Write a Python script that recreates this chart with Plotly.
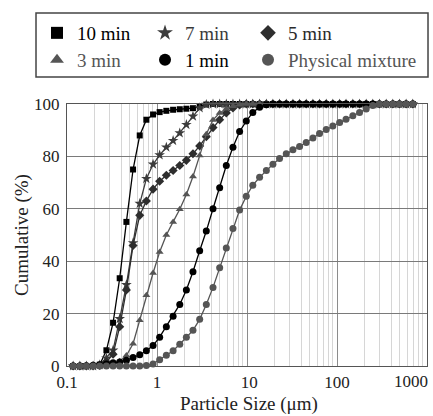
import plotly.graph_objects as go

# Particle size grid (µm)
SIZES = [0.117, 0.139, 0.164, 0.195, 0.231, 0.274, 0.325, 0.385, 0.457, 0.542,
         0.643, 0.762, 0.904, 1.07, 1.27, 1.51, 1.79, 2.12, 2.51, 2.98,
         3.53, 4.19, 4.97, 5.89, 6.98, 8.28, 9.82, 11.6, 13.8, 16.4,
         19.4, 23.0, 27.3, 32.4, 38.4, 45.5, 54.0, 64.0, 75.9, 89.9,
         107, 126, 150, 178, 211, 250, 296, 352, 417, 494, 586, 695]

MIN10 = [0, 0, 0, 0, 0.5, 6, 16.5, 33.5, 55, 75, 88, 94, 96.0, 96.9, 97.4, 97.8,
         98.0, 98.2, 98.4, 99.0, 99.8] + [100] * 31
MIN7 = [0, 0, 0, 0, 0.4, 3, 6, 18, 31, 47, 62, 71.5, 77, 80.5, 83.5, 86, 88.9,
        92.1, 95.3, 98.5, 99.8] + [100] * 31
MIN5 = [0, 0, 0, 0, 0.2, 1.5, 4.5, 15, 29, 46, 57.5, 63, 67.5, 70.5, 72.8, 74.6,
        76.5, 78.5, 81, 84, 87.5, 91, 94, 96.6, 98.5, 99.6] + [100] * 26
MIN3 = [0, 0, 0, 0, 0, 0.3, 0.8, 1.8, 4, 8.5, 17.5, 27, 35.5, 43.5, 50, 55,
        59.8, 65.5, 72.3, 80.3, 88.5, 93.9, 96.6, 98.2, 99.1, 99.7] + [100] * 26
MIN1 = [0, 0, 0.1, 0.3, 0.5, 0.8, 1.2, 1.5, 2.2, 3.2, 4.3, 5.8, 7.8, 11, 15, 19,
        23.5, 29, 36, 44, 51.5, 60, 68, 76.5, 83.5, 89.5, 93.5, 96.8, 98.8, 99.7] + [100] * 22
PHYS = [0] * 11 + [0.2, 0.8, 2.4, 4.1, 5.8, 8.3, 11, 13.6, 17.8, 23.5, 30, 37.5,
                   45, 52.5, 59.5, 64.8, 69, 72, 74.6, 77, 79.2, 81, 82.5, 83.8,
                   85.3, 87, 88.7, 90.3, 91.6, 92.9, 94.2, 95.5, 96.8, 98.1, 99.4,
                   100, 100, 100, 100, 100, 100]

NAMES = ["10 min", "7 min", "5 min", "3 min", "1 min", "Physical mixture"]
VALUES = [MIN10, MIN7, MIN5, MIN3, MIN1, PHYS]
SYMBOLS = ["square", "star", "diamond", "triangle-up", "circle", "circle"]
COLORS = ["#000000", "#3c3c3c", "#2e2e2e", "#555555", "#000000", "#555555"]
TEXT_COLORS = ["#000000", "#3a3a3a", "#2a2a2a", "#555555", "#000000", "#555555"]
SIZES_MK = [6, 8, 7, 7, 7, 7]

X_TICKS = [0.1, 1, 10, 100, 1000]
X_TICK_LABELS = ["0.1", "1", "10", "100", "1000"]
MINOR_TICKS = [m * d for d in [0.1, 1, 10, 100] for m in range(2, 10)]
Y_TICKS = [0, 20, 40, 60, 80, 100]

# legend slot placement (paper coords): 3 columns x 2 rows
LEG_X = [-0.0833, 0.2167, 0.5028]
LEG_Y = [1.271, 1.168]

FONT = '"Liberation Serif", "Times New Roman", serif'
INK = "#222222"

fig = go.Figure()
legend_layout = {}
for i, (name, vals, sym, col, tcol, msz) in enumerate(
        zip(NAMES, VALUES, SYMBOLS, COLORS, TEXT_COLORS, SIZES_MK)):
    lg = "legend" if i == 0 else "legend%d" % (i + 1)
    fig.add_trace(go.Scatter(x=SIZES, y=vals, mode="lines",
                             line=dict(color=col, width=1.3),
                             showlegend=False, hoverinfo="skip"))
    fig.add_trace(go.Scatter(x=SIZES, y=vals, mode="markers",
                             marker=dict(symbol=sym, size=msz, color=col,
                                         line=dict(width=0)),
                             name=name, legend=lg, cliponaxis=False))
    legend_layout[lg] = dict(
        orientation="h", x=LEG_X[i % 3], xanchor="left",
        y=LEG_Y[i // 3], yanchor="middle",
        bgcolor="rgba(0,0,0,0)", borderwidth=0, itemsizing="constant",
        font=dict(family=FONT, size=19, color=tcol))

# last tick label is drawn right-aligned to the axis end (as in the reference)
tick_text = ["\u00a0" + t if t == "10" else t for t in X_TICK_LABELS[:-1]] + [""]

fig.update_layout(
    width=433, height=416,
    margin=dict(l=67, r=6, t=104, b=50, autoexpand=False),
    paper_bgcolor="white", plot_bgcolor="white",
    font=dict(family=FONT, size=17, color=INK),
    shapes=[dict(type="rect", xref="paper", yref="paper",
                 x0=-0.0861, x1=1.0028, y0=1.103, y1=1.347,
                 line=dict(color="#444444", width=1.5), fillcolor="rgba(0,0,0,0)")],
    annotations=[
        dict(text="Particle Size (μm)", xref="paper", yref="paper",
             x=0.5056, y=-0.145, xanchor="center", yanchor="middle",
             showarrow=False, font=dict(family=FONT, size=19, color=INK)),
        dict(text="Cumulative (%)", xref="paper", yref="paper",
             x=-0.125, y=0.5, xanchor="center", yanchor="middle", textangle=-90,
             showarrow=False, font=dict(family=FONT, size=19, color=INK)),
        dict(text=X_TICK_LABELS[-1], xref="paper", yref="paper",
             x=1.0, y=-0.061, xanchor="right", yanchor="middle", xshift=3,
             showarrow=False, font=dict(family=FONT, size=17, color=INK)),
    ],
    **legend_layout,
)

fig.update_xaxes(
    type="log", range=[-1, 3],
    tickmode="array", tickvals=X_TICKS, ticktext=tick_text,
    showgrid=True, gridcolor="#8c8c8c", gridwidth=1,
    minor=dict(tickmode="array", tickvals=MINOR_TICKS, showgrid=True,
               gridcolor="#d6d6d6", gridwidth=1.2, ticks=""),
    showline=True, linecolor="#555555", linewidth=1.2, mirror=True,
    zeroline=False, ticks="", automargin=False,
    ticklabelstandoff=0,
    tickfont=dict(family=FONT, size=17, color=INK),
)
fig.update_yaxes(
    range=[0, 100], tickmode="array", tickvals=Y_TICKS,
    showgrid=True, gridcolor="#7a7a7a", gridwidth=1,
    showline=True, linecolor="#555555", linewidth=1.2, mirror=True,
    zeroline=False, ticks="", ticklabelstandoff=3, automargin=False,
    tickfont=dict(family=FONT, size=17, color=INK),
)

fig.write_html("out.html", config={"displayModeBar": False},
               post_script="document.body.style.margin='0';document.body.style.overflow='hidden';")
